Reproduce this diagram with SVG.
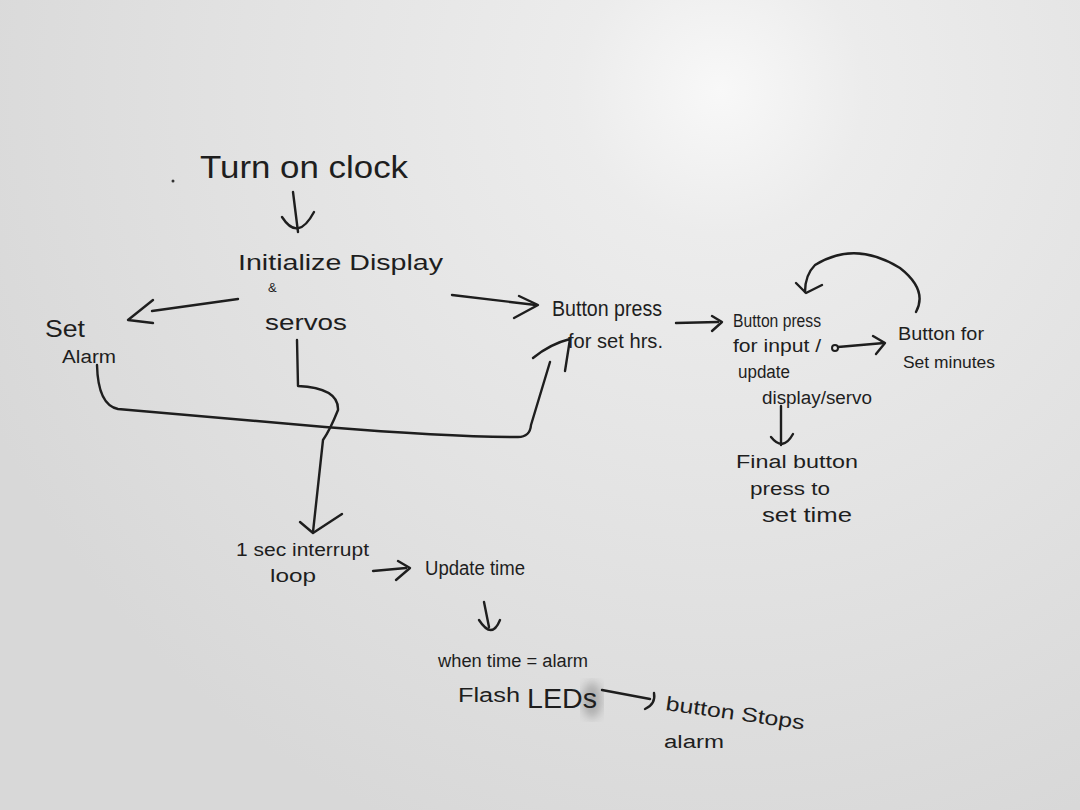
<svg xmlns="http://www.w3.org/2000/svg" width="1080" height="810" viewBox="0 0 1080 810">
<defs>
<radialGradient id="bg" cx="720" cy="90" r="800" gradientUnits="userSpaceOnUse">
<stop offset="0" stop-color="#f8f8f8"/>
<stop offset="0.18" stop-color="#ececec"/>
<stop offset="0.6" stop-color="#e2e2e2"/>
<stop offset="1" stop-color="#d8d8d8"/>
</radialGradient>
<filter id="blur"><feGaussianBlur stdDeviation="5"/></filter>
<style>
text{font-family:"Liberation Sans","DejaVu Sans",sans-serif;fill:#1e1e1e;}
.ln{fill:none;stroke:#1e1e1e;stroke-width:2.4;stroke-linecap:round;stroke-linejoin:round;}
</style>
</defs>
<rect width="1080" height="810" fill="url(#bg)"/>
<ellipse cx="592" cy="700" rx="10" ry="18" fill="#555" opacity="0.35" filter="url(#blur)"/>
<circle cx="173" cy="181" r="1.5" fill="#333"/>

<g id="connectors">
<path class="ln" d="M293,192 L298,232"/>
<path class="ln" d="M282,217 Q298,242 314,212"/>
<path class="ln" d="M238,299 L152,311"/>
<path class="ln" d="M153,300 L128,320 L153,323"/>
<path class="ln" d="M452,295 L536,305"/>
<path class="ln" d="M519,296 L538,305 L514,318"/>
<path class="ln" d="M97,365 Q98,405 118,409 L325,427 Q450,437 518,437 Q530,437 531,425 L550,362"/>
<path class="ln" d="M533,358 Q550,344 570,339 L565,371"/>
<path class="ln" d="M297,340 L298,386 Q339,388 338,410 Q330,430 323,440 L313,532"/>
<path class="ln" d="M300,522 L313,533 L342,514"/>
<path class="ln" d="M676,323 L718,322"/>
<path class="ln" d="M712,316 L722,322 L712,331"/>
<circle cx="835" cy="348" r="3" fill="none" stroke="#1e1e1e" stroke-width="2"/>
<path class="ln" d="M838,347 L884,343"/>
<path class="ln" d="M873,336 L885,343 L876,354"/>
<path class="ln" d="M916,312 Q928,290 900,268 Q855,240 815,265 Q805,275 805,292"/>
<path class="ln" d="M796,283 L806,293 L822,285"/>
<path class="ln" d="M781,406 L781,445"/>
<path class="ln" d="M771,437 Q783,452 793,434"/>
<path class="ln" d="M373,571 L406,568"/>
<path class="ln" d="M398,561 L410,568 L396,580"/>
<path class="ln" d="M484,602 L489,627"/>
<path class="ln" d="M479,620 Q492,640 500,620"/>
<path class="ln" d="M602,690 L650,699"/>
<path class="ln" d="M645,709 Q656,704 654,693"/>
</g>

<g id="n-turn-on"><text x="200" y="178" font-size="32" textLength="208" lengthAdjust="spacingAndGlyphs">Turn on clock</text></g>
<g id="n-init">
<text x="238" y="270" font-size="22" textLength="205" lengthAdjust="spacingAndGlyphs">Initialize Display</text>
<text x="268" y="292" font-size="13">&amp;</text>
<text x="265" y="330" font-size="22" textLength="82" lengthAdjust="spacingAndGlyphs">servos</text>
</g>
<g id="n-set-alarm">
<text x="45" y="337" font-size="24" textLength="40" lengthAdjust="spacingAndGlyphs">Set</text>
<text x="62" y="363" font-size="18" textLength="54" lengthAdjust="spacingAndGlyphs">Alarm</text>
</g>
<g id="n-set-hrs">
<text x="552" y="316" font-size="22" textLength="110" lengthAdjust="spacingAndGlyphs">Button press</text>
<text x="568" y="348" font-size="20" textLength="95" lengthAdjust="spacingAndGlyphs">for set hrs.</text>
</g>
<g id="n-input">
<text x="733" y="327" font-size="18" textLength="88" lengthAdjust="spacingAndGlyphs">Button press</text>
<text x="733" y="352" font-size="18" textLength="88" lengthAdjust="spacingAndGlyphs">for input /</text>
<text x="738" y="378" font-size="18" textLength="52" lengthAdjust="spacingAndGlyphs">update</text>
<text x="762" y="404" font-size="18" textLength="110" lengthAdjust="spacingAndGlyphs">display/servo</text>
</g>
<g id="n-minutes">
<text x="898" y="340" font-size="18" textLength="86" lengthAdjust="spacingAndGlyphs">Button for</text>
<text x="903" y="368" font-size="17" textLength="92" lengthAdjust="spacingAndGlyphs">Set minutes</text>
</g>
<g id="n-final">
<text x="736" y="468" font-size="18" textLength="122" lengthAdjust="spacingAndGlyphs">Final button</text>
<text x="750" y="495" font-size="18" textLength="80" lengthAdjust="spacingAndGlyphs">press to</text>
<text x="762" y="522" font-size="20" textLength="90" lengthAdjust="spacingAndGlyphs">set time</text>
</g>
<g id="n-interrupt">
<text x="236" y="556" font-size="18" textLength="133" lengthAdjust="spacingAndGlyphs">1 sec interrupt</text>
<text x="270" y="582" font-size="18" textLength="46" lengthAdjust="spacingAndGlyphs">loop</text>
</g>
<g id="n-update"><text x="425" y="575" font-size="20" textLength="100" lengthAdjust="spacingAndGlyphs">Update time</text></g>
<g id="n-flash">
<text x="438" y="667" font-size="18" textLength="150" lengthAdjust="spacingAndGlyphs">when time = alarm</text>
<text x="458" y="702" font-size="20" textLength="62" lengthAdjust="spacingAndGlyphs">Flash</text>
<text x="527" y="708" font-size="28" textLength="70" lengthAdjust="spacingAndGlyphs">LEDs</text>
</g>
<g id="n-stops">
<text x="665" y="710" font-size="20" textLength="140" lengthAdjust="spacingAndGlyphs" transform="rotate(8 665 710)">button Stops</text>
<text x="664" y="748" font-size="18" textLength="60" lengthAdjust="spacingAndGlyphs">alarm</text>
</g>
</svg>
